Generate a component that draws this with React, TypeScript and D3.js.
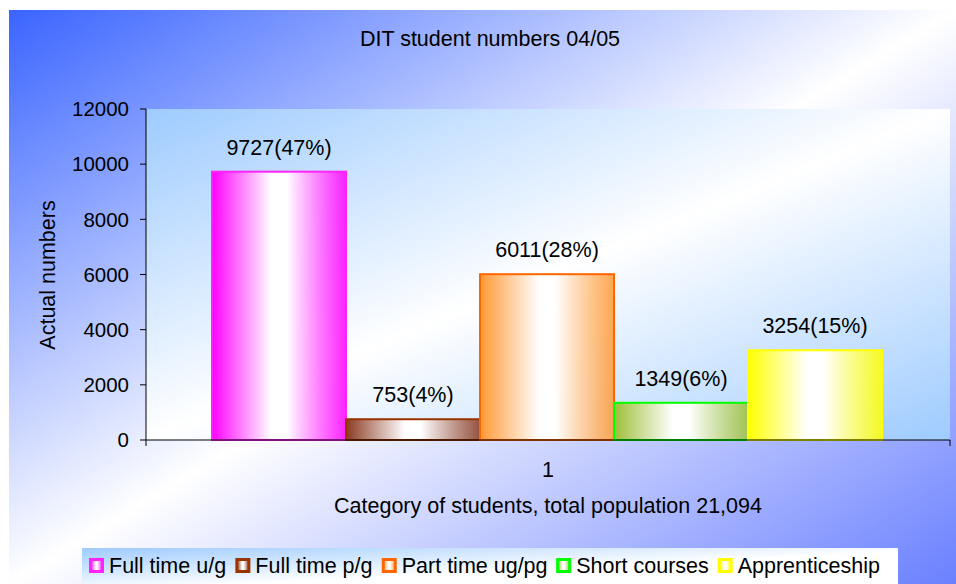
import * as d3 from "d3";

const series = ["Full time u/g", "Full time p/g", "Part time ug/pg", "Short courses", "Apprenticeship"];
const values = [9727, 753, 6011, 1349, 3254];
const shares = [47, 4, 28, 6, 15];
const categories = ["1"];
const yTicks = [0, 2000, 4000, 6000, 8000, 10000, 12000];

const FILLS = ["#ff00ff", "#8a3a22", "#ff9933", "#9dbf38", "#ffff00"];
const STROKES = ["#ff22ff", "#993300", "#ff6600", "#00ff00", "#ffff00"];

const W = 956;
const H = 584;
const PLOT = { left: 146, right: 950, top: 109, bottom: 440 };
const FONT = "'Liberation Sans', Arial, sans-serif";

function textWidth(s: string, size: number) {
  const c = document.createElement("canvas").getContext("2d");
  if (!c) return s.length * size * 0.55;
  c.font = `${size}px "Liberation Sans", Arial, sans-serif`;
  return c.measureText(s).width;
}

export default function App() {
  const y = d3.scaleLinear().domain([0, 12000]).range([PLOT.bottom, PLOT.top]);
  const xOuter = d3
    .scaleBand()
    .domain(categories)
    .range([PLOT.left, PLOT.right])
    .paddingInner(0)
    .paddingOuter(0.1);
  const xInner = d3.scaleBand().domain(series).range([0, xOuter.bandwidth()]).padding(0);

  // legend layout, items one after another
  const legendItems: { x: number; tx: number; name: string; i: number }[] = [];
  let lx = 89;
  series.forEach((name, i) => {
    legendItems.push({ x: lx, tx: lx + 20, name, i });
    lx += 20 + textWidth(name, 21) + 12;
  });

  return (
    <svg
      width={W}
      height={H}
      style={{ position: "absolute", left: 0, top: 0, fontFamily: FONT }}
    >
      <defs>
        <linearGradient id="bg" x1="0" y1="0" x2="1" y2="1">
          <stop offset="0" stopColor="#3a64ff" />
          <stop offset="0.5" stopColor="#ffffff" />
          <stop offset="1" stopColor="#6a80ff" />
        </linearGradient>
        <linearGradient id="plotbg" x1="0" y1="0" x2="1" y2="1">
          <stop offset="0" stopColor="#9ecbff" />
          <stop offset="0.5" stopColor="#ffffff" />
          <stop offset="1" stopColor="#9ecbff" />
        </linearGradient>
        <linearGradient id="legbg" x1="0" y1="0" x2="1" y2="1">
          <stop offset="0" stopColor="#9ecbff" />
          <stop offset="0.55" stopColor="#ffffff" />
          <stop offset="1" stopColor="#ffffff" />
        </linearGradient>
        {FILLS.map((c, i) => (
          <linearGradient key={i} id={`bar${i}`} x1="0" y1="0" x2="1" y2="0">
            <stop offset="0" stopColor={c} />
            <stop offset="0.44" stopColor="#ffffff" />
            <stop offset="0.56" stopColor="#ffffff" />
            <stop offset="1" stopColor={c} stopOpacity={0.85} />
          </linearGradient>
        ))}
      </defs>

      <rect x={9} y={10} width={W - 9} height={H - 10} fill="url(#bg)" />

      <text x={490} y={46} textAnchor="middle" fontSize={21.5}>
        DIT student numbers 04/05
      </text>

      <rect
        x={PLOT.left}
        y={PLOT.top}
        width={PLOT.right - PLOT.left}
        height={PLOT.bottom - PLOT.top}
        fill="url(#plotbg)"
      />

      {/* bars */}
      {categories.map((cat) => (
        <g key={cat} transform={`translate(${xOuter(cat)! - 1},0)`}>
          {series.map((name, i) => (
            <rect
              key={name}
              x={xInner(name)!}
              y={y(values[i])}
              width={xInner.bandwidth()}
              height={y(0) - y(values[i])}
              fill={`url(#bar${i})`}
              stroke={STROKES[i]}
              strokeWidth={2}
            />
          ))}
          {series.map((name, i) => (
            <text
              key={name}
              x={xInner(name)! + xInner.bandwidth() / 2}
              y={y(values[i]) - 17}
              textAnchor="middle"
              fontSize={21.5}
            >
              {`${values[i]}(${shares[i]}%)`}
            </text>
          ))}
        </g>
      ))}

      {/* y axis */}
      <line x1={PLOT.left} x2={PLOT.left} y1={PLOT.top} y2={PLOT.bottom + 6} stroke="#000" strokeWidth={1} />
      {yTicks.map((t) => (
        <g key={t}>
          <line x1={PLOT.left - 6} x2={PLOT.left} y1={y(t)} y2={y(t)} stroke="#000" />
          <text x={129} y={y(t)} dy="0.35em" textAnchor="end" fontSize={20.5}>
            {t}
          </text>
        </g>
      ))}

      {/* x axis */}
      <line
        x1={PLOT.left}
        x2={PLOT.right}
        y1={PLOT.bottom}
        y2={PLOT.bottom}
        stroke="#000"
        strokeOpacity={0.5}
        strokeWidth={2}
      />
      <line x1={PLOT.right} x2={PLOT.right} y1={PLOT.bottom} y2={PLOT.bottom + 6} stroke="#000" />
      {categories.map((cat) => (
        <text
          key={cat}
          x={xOuter(cat)! + xOuter.bandwidth() / 2}
          y={477}
          textAnchor="middle"
          fontSize={21.5}
        >
          {cat}
        </text>
      ))}
      <text x={(PLOT.left + PLOT.right) / 2} y={513} textAnchor="middle" fontSize={21.5}>
        Category of students, total population 21,094
      </text>

      <text transform="translate(55,275) rotate(-90)" textAnchor="middle" fontSize={21.5}>
        Actual numbers
      </text>

      {/* legend */}
      <rect x={82} y={548} width={816} height={40} fill="url(#legbg)" />
      {legendItems.map((d) => (
        <g key={d.name}>
          <rect
            x={d.x + 1.5}
            y={559.5}
            width={12}
            height={12}
            fill={`url(#bar${d.i})`}
            stroke={STROKES[d.i]}
            strokeWidth={3}
          />
          <text x={d.tx} y={573} fontSize={21.5}>
            {d.name}
          </text>
        </g>
      ))}
    </svg>
  );
}
